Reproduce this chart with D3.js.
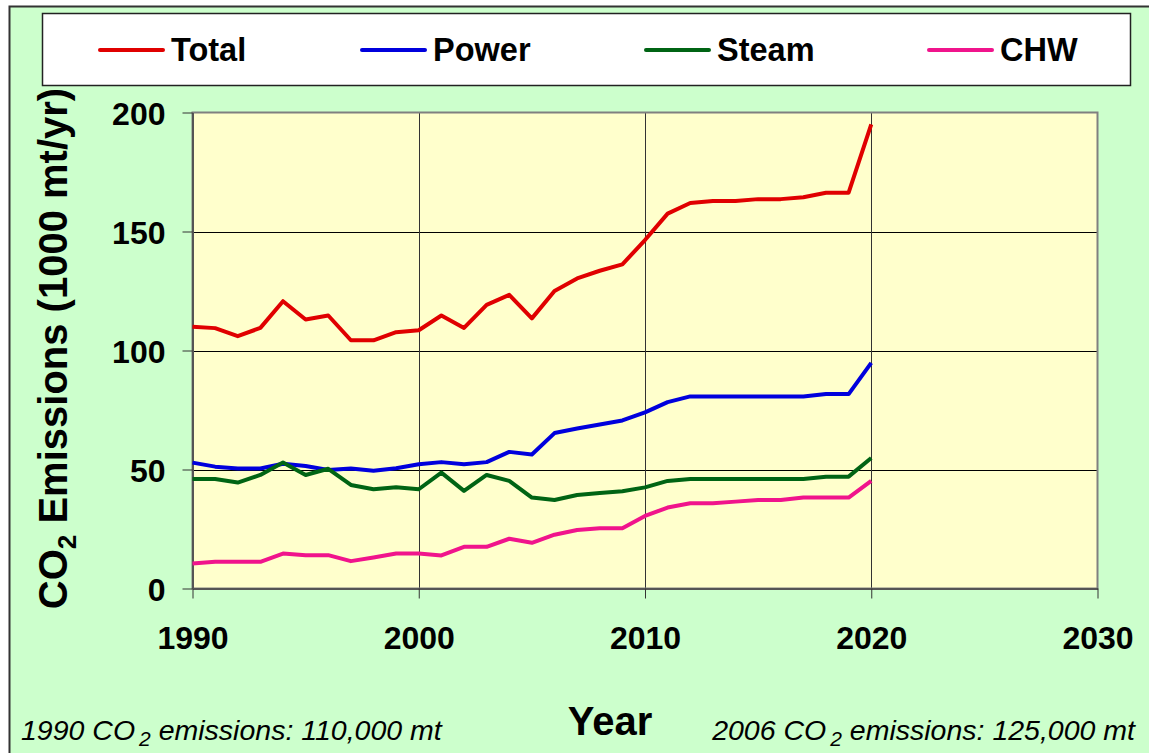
<!DOCTYPE html>
<html>
<head>
<meta charset="utf-8">
<script src="https://cdn.jsdelivr.net/npm/d3@7"></script>
<style>
	body { margin: 0; background: #fff; }
	svg text { font-family: "Liberation Sans", Arial, sans-serif; }
</style>
</head>
<body>
<div id="chart-area"></div>
<script>

// years and series (1000 mt/yr)
let years = [1990, 1991, 1992, 1993, 1994, 1995, 1996, 1997, 1998, 1999,
	2000, 2001, 2002, 2003, 2004, 2005, 2006, 2007, 2008, 2009,
	2010, 2011, 2012, 2013, 2014, 2015, 2016, 2017, 2018, 2019, 2020];

let total = [110, 109.4, 106, 109.5, 120.7, 113, 114.7, 104.3, 104.3, 107.7,
	108.5, 114.7, 109.5, 119.2, 123.4, 113.5, 125, 130.3, 133.5, 136.2,
	146.4, 157.5, 162, 162.8, 162.8, 163.6, 163.6, 164.4, 166.3, 166.3, 195];

let power = [52.9, 51.2, 50.4, 50.4, 52.4, 51.5, 49.8, 50.4, 49.5, 50.5,
	52.2, 53.1, 52.2, 53.1, 57.4, 56.3, 65.3, 67.2, 68.9, 70.6,
	74, 78.3, 80.7, 80.7, 80.7, 80.7, 80.7, 80.7, 81.7, 81.7, 94.8];

let steam = [46, 46, 44.5, 47.7, 52.9, 47.7, 50.3, 43.5, 41.7, 42.5,
	41.7, 48.7, 41, 47.7, 45.2, 38.2, 37.2, 39.3, 40.1, 40.9,
	42.5, 45.2, 46, 46, 46, 46, 46, 46, 47, 47, 54.8];

let chw = [10.5, 11.2, 11.2, 11.2, 14.7, 14, 14, 11.5, 13, 14.7,
	14.7, 13.9, 17.5, 17.5, 20.9, 19.2, 22.6, 24.6, 25.3, 25.3,
	30.5, 34, 35.8, 35.8, 36.5, 37.2, 37.2, 38.2, 38.2, 38.2, 45.2];

let seriesNames = ["Total", "Power", "Steam", "CHW"];
let xTicks = [1990, 2000, 2010, 2020, 2030];
let yTicks = [0, 50, 100, 150, 200];

let colors = {Total: "#e00000", Power: "#0000dd", Steam: "#006414", CHW: "#f0148c"};
let seriesData = {Total: total, Power: power, Steam: steam, CHW: chw};

let W = 1149, H = 753;
let plot = {left: 192.5, top: 112.5, right: 1097.5, bottom: 588.5};

let svg = d3.select("#chart-area").append("svg")
	.attr("width", W)
	.attr("height", H);

// page background + frame
svg.append("rect")
	.attr("x", 9.5).attr("y", 6.5)
	.attr("width", W + 10).attr("height", H + 10)
	.attr("fill", "#ccffcc")
	.attr("stroke", "#333").attr("stroke-width", 2);

// scales
let x = d3.scaleLinear().domain([1990, 2030]).range([plot.left, plot.right]);
let y = d3.scaleLinear().domain([0, 200]).range([plot.bottom, plot.top]);

// plot area
svg.append("rect")
	.attr("x", plot.left).attr("y", plot.top)
	.attr("width", plot.right - plot.left).attr("height", plot.bottom - plot.top)
	.attr("fill", "#ffffcc");

// grid lines
svg.append("g").selectAll("line")
	.data(yTicks.filter(d => d > 0 && d < 200))
	.enter().append("line")
	.attr("x1", plot.left).attr("x2", plot.right)
	.attr("y1", d => Math.round(y(d)) + 0.5).attr("y2", d => Math.round(y(d)) + 0.5)
	.attr("stroke", "#000");

svg.append("g").selectAll("line")
	.data(xTicks.filter(d => d > 1990 && d < 2030))
	.enter().append("line")
	.attr("y1", plot.top).attr("y2", plot.bottom)
	.attr("x1", d => Math.round(x(d)) + 0.5).attr("x2", d => Math.round(x(d)) + 0.5)
	.attr("stroke", "#333");

// plot border
svg.append("rect")
	.attr("x", plot.left).attr("y", plot.top)
	.attr("width", plot.right - plot.left).attr("height", plot.bottom - plot.top)
	.attr("fill", "none")
	.attr("stroke", "#808080").attr("stroke-width", 2);

// axes
let xAxis = d3.axisBottom(x)
	.tickValues(xTicks)
	.tickFormat(d3.format("d"))
	.tickSize(10)
	.tickPadding(28)
	.tickSizeOuter(0);

let yAxis = d3.axisLeft(y)
	.tickValues(yTicks)
	.tickSize(10)
	.tickPadding(17)
	.tickSizeOuter(0);

let gx = svg.append("g")
	.attr("transform", "translate(0," + plot.bottom + ")")
	.call(xAxis);

let gy = svg.append("g")
	.attr("transform", "translate(" + plot.left + ",0)")
	.call(yAxis);

[gx, gy].forEach(g => {
	g.select(".domain").attr("stroke", "#555").attr("stroke-width", 2);
	g.selectAll(".tick line").attr("stroke", "#333");
	g.selectAll(".tick text")
		.attr("fill", "#000")
		.style("font-family", "'Liberation Sans', Arial, sans-serif")
		.style("font-size", "32px")
		.style("font-weight", "bold");
});
gy.selectAll(".tick text").attr("dy", "0.36em");

// lines
let line = d3.line()
	.x((d, i) => x(years[i]))
	.y(d => y(d));

seriesNames.forEach(name => {
	svg.append("path")
		.datum(seriesData[name])
		.attr("fill", "none")
		.attr("stroke", colors[name])
		.attr("stroke-width", 4)
		.attr("stroke-linejoin", "round")
		.attr("d", line);
});

// legend
svg.append("rect")
	.attr("x", 42.5).attr("y", 13.5)
	.attr("width", 1088).attr("height", 72)
	.attr("fill", "#fff")
	.attr("stroke", "#222").attr("stroke-width", 1.5);

let legendX = [100, 362, 646, 929];
seriesNames.forEach((name, i) => {
	svg.append("line")
		.attr("x1", legendX[i]).attr("x2", legendX[i] + 63)
		.attr("y1", 50).attr("y2", 50)
		.attr("stroke", colors[name])
		.attr("stroke-width", 4)
		.attr("stroke-linecap", "round");
	svg.append("text")
		.attr("x", legendX[i] + 71)
		.attr("y", 61)
		.style("font-size", "32.5px")
		.style("font-weight", "bold")
		.text(name);
});

// y axis title
let yTitle = svg.append("text")
	.attr("transform", "translate(67," + ((plot.top + plot.bottom) / 2 - 2) + ") rotate(-90)")
	.attr("text-anchor", "middle")
	.style("font-size", "40px")
	.style("font-weight", "bold");
yTitle.append("tspan").text("CO");
yTitle.append("tspan").attr("dy", 9).style("font-size", "26px").text("2");
yTitle.append("tspan").attr("dy", -9).text(" Emissions (1000 mt/yr)");

// x axis title
svg.append("text")
	.attr("x", 610)
	.attr("y", 735)
	.attr("text-anchor", "middle")
	.style("font-size", "40px")
	.style("font-weight", "bold")
	.text("Year");

// notes
function note(xPos, anchor, year, value) {
	let t = svg.append("text")
		.attr("x", xPos)
		.attr("y", 740)
		.attr("text-anchor", anchor)
		.style("font-size", "28.5px")
		.style("font-style", "italic");
	t.append("tspan").text(year + " CO");
	t.append("tspan").attr("dy", 6).attr("dx", 4).style("font-size", "21px").text("2");
	t.append("tspan").attr("dy", -6).text("  emissions: " + value + " mt");
}
note(21, "start", "1990", "110,000");
note(1135, "end", "2006", "125,000");

</script>
</body>
</html>
